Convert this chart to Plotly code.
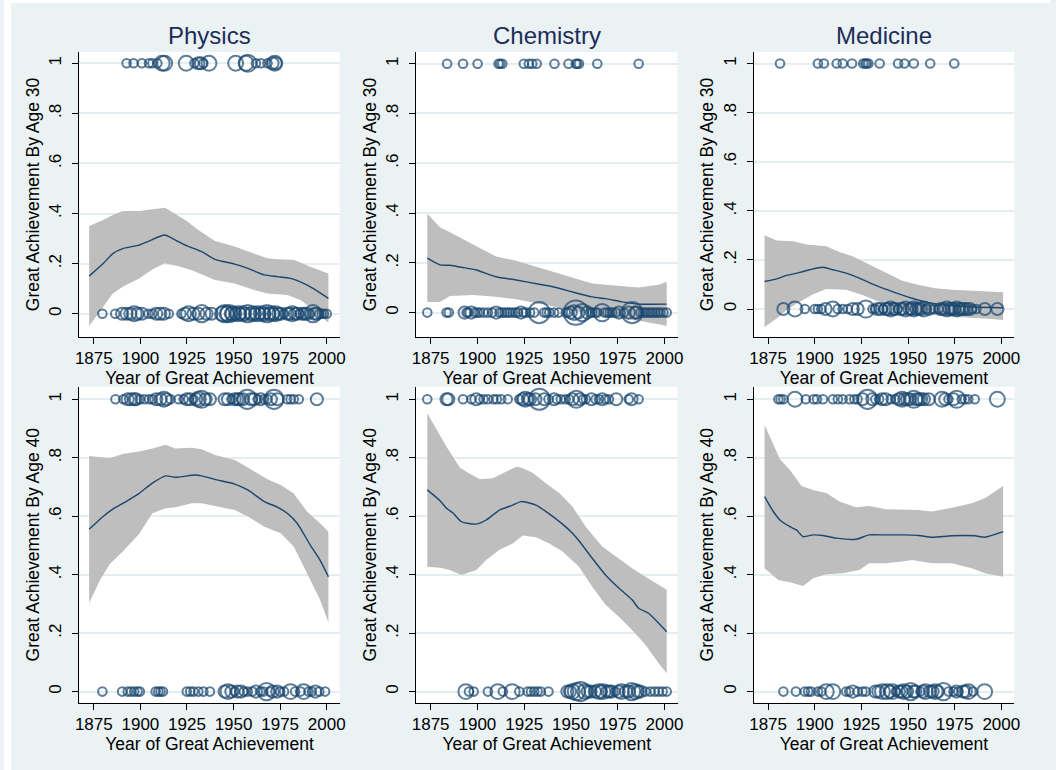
import math
import plotly.graph_objects as go

# ---------------- data ----------------
fields = ["Physics", "Chemistry", "Medicine"]
ylabels = ["Great Achievement By Age 30", "Great Achievement By Age 40"]
xlabel = "Year of Great Achievement"
x_ticks = [1875, 1900, 1925, 1950, 1975, 2000]
y_tickvals = [0, 0.2, 0.4, 0.6, 0.8, 1]
y_ticktext = ["0", ".2", ".4", ".6", ".8", "1"]

# ---- Physics, age 30 ----
phys30_fit_x = [1872.5, 1880, 1885.2, 1890.5, 1899.3, 1904.6, 1913, 1918.8, 1924.1, 1932.9, 1940, 1950.6, 1957.6, 1966.5, 1973.5, 1980.6, 1987.6, 1992.9, 2000.9]
phys30_fit_y = [0.15, 0.20, 0.24, 0.26, 0.274, 0.29, 0.314, 0.294, 0.274, 0.248, 0.217, 0.198, 0.181, 0.155, 0.148, 0.141, 0.121, 0.10, 0.061]
phys30_hi_x = [1872.5, 1880, 1885.2, 1890.5, 1899.3, 1913.2, 1924.1, 1931.1, 1940, 1950.6, 1959.4, 1968.2, 1973.5, 1982.3, 1991.1, 2000.9]
phys30_hi_y = [0.35, 0.374, 0.394, 0.41, 0.41, 0.423, 0.374, 0.334, 0.29, 0.268, 0.244, 0.221, 0.217, 0.215, 0.188, 0.161]
phys30_lo_x = [1872.5, 1880, 1885.2, 1890.5, 1899.3, 1906.4, 1913, 1920.5, 1927.6, 1940, 1950.6, 1961, 1968.2, 1978.8, 1985.9, 1992.9, 2000.9]
phys30_lo_y = [-0.049, 0.028, 0.081, 0.108, 0.141, 0.177, 0.201, 0.19, 0.174, 0.135, 0.121, 0.095, 0.081, 0.075, 0.055, 0.015, -0.036]
phys30_yes_years = [1892.6, 1896.3, 1900.8, 1904.6, 1906.4, 1909.1, 1911.7, 1913, 1924.6, 1929, 1931.1, 1932.5, 1933.8, 1936.8, 1951.1, 1956.7, 1957.6, 1962, 1964.7, 1968.2, 1970.9, 1972.1, 1972.6]
phys30_yes_count = [1, 1, 1, 1, 1, 1, 3, 3, 3, 1, 2, 2, 1, 3, 3, 3, 4, 1, 1, 1, 2, 3, 2]
phys30_no_years = [1879.6, 1886.5, 1890.2, 1892.6, 1894.6, 1896.7, 1898.5, 1900.8, 1904.3, 1906.4, 1908.5, 1910.6, 1912.6, 1915.2, 1922, 1924, 1925.8, 1928.5, 1931.1, 1932.9, 1935.5, 1938.2,
                   1944, 1945.3, 1946.5, 1947.6, 1948.5, 1949.7, 1951, 1952.4, 1953.5, 1955, 1956, 1957.6, 1959, 1960.3, 1961.5, 1962.9, 1964, 1965.6, 1966.5, 1967.9, 1969, 1970.3, 1971.5, 1972.6, 1974, 1975.3, 1977, 1978.8, 1980, 1981.5, 1983, 1984.1, 1985.5, 1986.7, 1988, 1989.4, 1991, 1992.6, 1993.5, 1994.7, 1996, 1997.3, 1998.5, 2000]
phys30_no_count = [1, 1, 2, 2, 2, 3, 2, 2, 1, 1, 2, 2, 2, 1, 1, 2, 3, 2, 2, 4, 2, 2,
                   3, 4, 3, 4, 2, 3, 2, 3, 2, 3, 2, 4, 2, 3, 2, 3, 2, 3, 2, 4, 2, 3, 2, 3, 2, 2, 1, 2, 2, 3, 2, 2, 1, 2, 2, 2, 1, 4, 2, 2, 1, 1, 1, 1]

# ---- Chemistry, age 30 ----
chem30_fit_x = [1873.2, 1880, 1885.3, 1892.3, 1899.4, 1910, 1920.7, 1933.1, 1941.9, 1950.8, 1961.4, 1968.5, 1977.3, 1986.2, 2001.2]
chem30_fit_y = [0.219, 0.192, 0.19, 0.181, 0.171, 0.144, 0.131, 0.114, 0.101, 0.083, 0.063, 0.056, 0.043, 0.034, 0.034]
chem30_hi_x = [1873.2, 1880, 1885.3, 1892.3, 1899.4, 1910, 1920.7, 1933.1, 1950.8, 1961.4, 1968.5, 1979.5, 1986.2, 1996.9, 2001.2]
chem30_hi_y = [0.397, 0.343, 0.323, 0.296, 0.269, 0.225, 0.208, 0.181, 0.141, 0.117, 0.112, 0.104, 0.101, 0.112, 0.124]
chem30_lo_x = [1873.2, 1880, 1885.3, 1897.6, 1908.2, 1920.7, 1933.1, 1941.9, 1950.8, 1961.4, 1972.5, 1986.2, 1996.9, 2001.2]
chem30_lo_y = [0.043, 0.043, 0.067, 0.071, 0.065, 0.054, 0.036, 0.023, 0.007, -0.006, -0.02, -0.033, -0.047, -0.054]
chem30_yes_years = [1883.8, 1892.3, 1900.1, 1911.3, 1912.2, 1913.3, 1924.8, 1927.5, 1929.3, 1931.7, 1941.2, 1948.7, 1952.6, 1953.3, 1954.3, 1964.1, 1986.2]
chem30_yes_count = [1] * 17
chem30_no_years = [1873.2, 1883.5, 1884.7, 1893.2, 1894.2, 1895, 1896.8, 1898.5, 1900, 1901.2, 1903.3, 1905.6, 1907.9, 1910, 1911.8, 1913.2, 1914.5, 1916, 1917.2, 1918.9, 1920.3, 1921.6, 1923.3, 1924.6, 1926, 1928.1, 1930.4, 1933, 1935.7, 1937, 1938.4, 1941, 1943.5,
                   1947.2, 1948.5, 1949.9, 1951.7, 1952.6, 1954, 1956.1, 1958.8, 1960.2, 1961.4, 1963, 1964.1, 1966.7, 1968, 1969.4, 1970.8, 1972.1, 1974, 1975.6, 1978.3, 1980.9, 1982.7, 1984.4, 1985, 1987.1, 1988.5, 1989.8, 1991.2, 1992.5, 1993.8, 1995.1, 1996.5, 1997.8, 1999.5, 2001.2]
chem30_no_count = [1, 1, 1, 2, 1, 1, 2, 1, 1, 1, 1, 1, 1, 2, 1, 1, 1, 1, 1, 1, 1, 1, 2, 1, 1, 1, 1, 6, 1, 1, 1, 1, 1,
                   1, 1, 2, 3, 8, 2, 4, 2, 1, 1, 1, 1, 4, 1, 1, 1, 1, 1, 2, 1, 2, 6, 2, 2, 1, 1, 1, 1, 1, 1, 1, 1, 1, 1, 1]

# ---- Medicine, age 30 ----
med30_fit_x = [1873.1, 1879.6, 1884.9, 1892, 1897.3, 1904.4, 1909.7, 1916.8, 1923.9, 1932.7, 1941.6, 1952.2, 1961.1, 1969.9, 1982.3, 2001]
med30_fit_y = [0.112, 0.123, 0.137, 0.149, 0.16, 0.17, 0.16, 0.146, 0.126, 0.096, 0.071, 0.044, 0.026, 0.016, 0.009, 0.005]
med30_hi_x = [1873.1, 1879.6, 1888.5, 1895.6, 1906.2, 1913.2, 1920.3, 1929.2, 1938, 1946.9, 1955.8, 1964.6, 1973.5, 1982.3, 2001]
med30_hi_y = [0.3, 0.279, 0.276, 0.263, 0.256, 0.232, 0.215, 0.181, 0.146, 0.115, 0.098, 0.085, 0.078, 0.074, 0.068]
med30_lo_x = [1873.1, 1879.6, 1884.9, 1892, 1899.1, 1906.2, 1916.8, 1925.6, 1934.5, 1945.1, 1955.8, 1973.5, 1991.2, 2001]
med30_lo_y = [-0.073, -0.039, -0.004, 0.03, 0.06, 0.082, 0.078, 0.057, 0.03, 0.003, -0.018, -0.032, -0.039, -0.045]
med30_yes_years = [1881.4, 1901.7, 1904.9, 1911.8, 1915, 1920, 1926, 1927.1, 1927.9, 1928.8, 1934.8, 1944.7, 1948.1, 1953.1, 1961.9, 1974.8]
med30_yes_count = [1] * 16
med30_no_years = [1883.2, 1889.4, 1894.7, 1900, 1901.7, 1903.5, 1905.8, 1909.7, 1912.3, 1915, 1917.7, 1920.4, 1923, 1927.4, 1931, 1932.3, 1933.6, 1935.4, 1936.7, 1938, 1939.4, 1940.7, 1942, 1943.3, 1944.6, 1946, 1947.3, 1948.7, 1950.8, 1952, 1953.1, 1954.5, 1955.8, 1957, 1958.4, 1959.8, 1961.1, 1963.7, 1966.4, 1967.5, 1969, 1970.8, 1972.2, 1973.5, 1974.8, 1976.1, 1977.5, 1978.8, 1980, 1981.4, 1983.2, 1984.5, 1986.7, 1991.2, 1997.9]
med30_no_count = [2, 3, 1, 1, 1, 1, 2, 3, 1, 1, 1, 2, 2, 4, 1, 1, 2, 2, 1, 2, 2, 3, 2, 2, 1, 2, 2, 3, 2, 2, 3, 2, 2, 2, 3, 1, 2, 1, 1, 2, 2, 3, 2, 2, 2, 3, 2, 2, 2, 2, 2, 1, 1, 2, 2]

# ---- Physics, age 40 ----
phys40_fit_x = [1872.5, 1880, 1885.2, 1892.3, 1899.3, 1906.4, 1913.5, 1918.8, 1929.4, 1932.9, 1940, 1950.6, 1957.6, 1966.5, 1973.5, 1978.8, 1984.1, 1991.1, 1996.4, 2000.9]
phys40_fit_y = [0.555, 0.599, 0.624, 0.65, 0.678, 0.713, 0.738, 0.733, 0.741, 0.738, 0.726, 0.71, 0.69, 0.65, 0.631, 0.61, 0.576, 0.502, 0.45, 0.393]
phys40_hi_x = [1872.5, 1883.5, 1890.5, 1899.3, 1906.4, 1913.5, 1918.8, 1927.6, 1932.9, 1940, 1950.6, 1957.6, 1968.2, 1975.3, 1982.3, 1989.4, 1996.4, 2000.9]
phys40_hi_y = [0.806, 0.798, 0.813, 0.821, 0.832, 0.844, 0.832, 0.834, 0.829, 0.809, 0.792, 0.767, 0.726, 0.707, 0.678, 0.616, 0.576, 0.547]
phys40_lo_x = [1872.5, 1878.4, 1883.5, 1890.5, 1899.3, 1906.4, 1913.5, 1918.8, 1927.6, 1932.9, 1940, 1950.6, 1957.6, 1966.5, 1975.3, 1982.3, 1989.4, 1996.4, 2000.9]
phys40_lo_y = [0.304, 0.382, 0.436, 0.479, 0.539, 0.61, 0.627, 0.631, 0.644, 0.644, 0.635, 0.621, 0.599, 0.564, 0.542, 0.496, 0.405, 0.314, 0.236]
phys40_yes_years = [1886.6, 1890.9, 1893.2, 1895, 1896.7, 1897.6, 1899.7, 1902, 1904.6, 1906.4, 1908.5, 1910.8, 1912.6, 1914, 1916.1, 1920.5, 1923.2, 1924.9, 1926.7, 1928.5, 1930, 1931.1, 1932.9, 1935, 1937.3, 1945.2, 1947, 1948.8, 1950.6, 1952, 1953.2, 1955, 1957.3, 1959.4, 1961, 1962.9, 1964.5, 1966.5, 1968.2, 1970, 1971.7, 1973.5, 1978.8, 1980.6, 1982.3, 1985, 1994.7]
phys40_yes_count = [1, 1, 2, 2, 2, 2, 1, 1, 1, 1, 2, 2, 3, 2, 1, 1, 1, 2, 2, 1, 2, 3, 4, 2, 2, 2, 2, 1, 2, 2, 2, 2, 5, 2, 2, 1, 2, 1, 1, 2, 5, 2, 1, 1, 1, 1, 2]
phys40_no_years = [1879.6, 1890.2, 1893.2, 1895, 1896.7, 1898.5, 1899.7, 1908.2, 1909.6, 1910.8, 1912.1, 1924.9, 1926.7, 1928.5, 1931.1, 1933.8, 1937.3, 1945.2, 1947, 1948.8, 1950.6, 1952, 1954.1, 1955.5, 1957.6, 1960, 1962, 1964.4, 1966, 1967.7, 1969.5, 1971, 1973.5, 1975, 1977.1, 1980.6, 1983, 1985.9, 1987.6, 1990.3, 1992, 1993.8, 1996, 1999.1]
phys40_no_count = [1, 1, 1, 1, 1, 1, 1, 1, 1, 1, 1, 1, 1, 1, 1, 1, 1, 2, 3, 2, 1, 2, 2, 1, 1, 1, 2, 1, 1, 4, 1, 2, 2, 1, 1, 3, 1, 1, 3, 1, 1, 2, 1, 1]

# ---- Chemistry, age 40 ----
chem40_fit_x = [1873.2, 1880, 1883.5, 1887.1, 1891.5, 1899.4, 1904.7, 1911.8, 1918.9, 1923.3, 1931.3, 1938.4, 1945.5, 1950.8, 1954.3, 1961.4, 1968.5, 1975.6, 1982.7, 1986.2, 1991.5, 1996.9, 2001.2]
chem40_fit_y = [0.69, 0.653, 0.627, 0.61, 0.581, 0.573, 0.587, 0.621, 0.638, 0.65, 0.638, 0.608, 0.573, 0.542, 0.516, 0.456, 0.399, 0.354, 0.314, 0.285, 0.268, 0.234, 0.205]
chem40_hi_x = [1873.2, 1878.2, 1883.5, 1890.6, 1894.1, 1901.2, 1908.3, 1913.6, 1920.7, 1923.3, 1929.5, 1936.6, 1943.7, 1950.8, 1957.9, 1966.7, 1973.8, 1982.7, 1989.8, 1996.9, 2001.2]
chem40_hi_y = [0.952, 0.897, 0.838, 0.767, 0.752, 0.726, 0.73, 0.747, 0.769, 0.767, 0.749, 0.713, 0.679, 0.633, 0.564, 0.496, 0.462, 0.422, 0.393, 0.365, 0.348]
chem40_lo_x = [1873.2, 1880, 1885.3, 1891.5, 1899.4, 1904.7, 1911.8, 1918.9, 1924.2, 1931.3, 1938.4, 1945.5, 1954.3, 1961.4, 1968.5, 1975.6, 1982.7, 1989.8, 1996.9, 2001.2]
chem40_lo_y = [0.427, 0.424, 0.416, 0.399, 0.416, 0.45, 0.485, 0.507, 0.534, 0.528, 0.507, 0.479, 0.427, 0.359, 0.297, 0.256, 0.211, 0.16, 0.097, 0.063]
chem40_yes_years = [1873.2, 1883.5, 1884.4, 1892.3, 1896.8, 1899.4, 1901.2, 1903.3, 1905.6, 1908.6, 1910.4, 1912.7, 1916.2, 1922.4, 1924.2, 1925.6, 1927, 1928.1, 1931, 1933.1, 1935.7, 1938, 1941, 1942.5, 1944.6, 1947.2, 1949, 1950.8, 1952.9, 1954.7, 1956.5, 1957.9, 1961, 1963.2, 1965, 1966.7, 1968.5, 1970.3, 1974.2, 1980.9, 1982.4, 1986.2]
chem40_yes_count = [1, 2, 2, 1, 1, 2, 1, 1, 1, 1, 1, 1, 1, 1, 2, 3, 2, 2, 2, 6, 2, 1, 2, 1, 1, 1, 1, 2, 4, 2, 1, 1, 2, 1, 1, 2, 1, 1, 2, 1, 2, 1]
chem40_no_years = [1893.8, 1895.5, 1898, 1905.6, 1910.9, 1913.6, 1918.6, 1922.4, 1926.9, 1928.6, 1930.4, 1932.2, 1933.9, 1938, 1948.1, 1949.5, 1950.8, 1952.9, 1955.2, 1957.5, 1959, 1960.5, 1962.8, 1965, 1966, 1967.1, 1969.4, 1970.5, 1971.7, 1973.8, 1975.5, 1977, 1979.5, 1981, 1982.4, 1984.5, 1985.8, 1987.1, 1989.8, 1992.5, 1994.8, 1996.9, 1999, 2001.2]
chem40_no_count = [3, 1, 1, 1, 3, 1, 3, 1, 1, 1, 1, 1, 1, 1, 2, 2, 3, 4, 5, 3, 2, 2, 2, 3, 2, 3, 2, 2, 2, 1, 2, 3, 2, 2, 4, 3, 2, 2, 1, 1, 1, 1, 1, 1]

# ---- Medicine, age 40 ----
med40_fit_x = [1873.1, 1877.8, 1881.4, 1886.7, 1890.2, 1893.8, 1899.1, 1904.4, 1911.5, 1922.1, 1929.2, 1938, 1946.9, 1955.8, 1962.8, 1973.5, 1985.9, 1991.2, 2001]
med40_fit_y = [0.667, 0.616, 0.587, 0.564, 0.553, 0.53, 0.536, 0.534, 0.525, 0.521, 0.536, 0.536, 0.536, 0.534, 0.528, 0.533, 0.533, 0.528, 0.547]
med40_hi_x = [1873.1, 1877.8, 1881.4, 1886.7, 1892.9, 1899.1, 1906.2, 1913.2, 1922.1, 1929.2, 1938, 1955.8, 1962.8, 1973.5, 1984.1, 1991.2, 2001]
med40_hi_y = [0.912, 0.844, 0.795, 0.758, 0.703, 0.69, 0.679, 0.65, 0.631, 0.635, 0.624, 0.621, 0.616, 0.629, 0.644, 0.661, 0.703]
med40_lo_x = [1873.1, 1880.5, 1886.7, 1893.8, 1899.1, 1906.2, 1915, 1923.9, 1929.2, 1938, 1946.9, 1952.2, 1962.8, 1973.5, 1984.1, 1991.2, 2001]
med40_lo_y = [0.422, 0.382, 0.374, 0.361, 0.388, 0.401, 0.405, 0.416, 0.439, 0.439, 0.445, 0.45, 0.439, 0.439, 0.422, 0.405, 0.393]
med40_yes_years = [1880.5, 1881.7, 1883.2, 1889.4, 1895.2, 1899.4, 1901.2, 1904.4, 1909.7, 1912.4, 1915, 1918.6, 1921.2, 1923, 1925.6, 1928.3, 1930.9, 1932.5, 1934.5, 1936, 1938, 1940.7, 1943.3, 1945, 1946.9, 1948, 1949.6, 1951, 1953.1, 1954.5, 1955.8, 1957, 1958.5, 1961.1, 1968.2, 1970, 1971.7, 1974.4, 1976.1, 1978.8, 1980.5, 1982.3, 1985.8, 1997.9]
med40_yes_count = [1, 1, 1, 3, 1, 1, 1, 1, 1, 1, 1, 1, 1, 1, 2, 5, 2, 1, 1, 2, 2, 1, 1, 2, 3, 2, 2, 2, 4, 2, 2, 2, 2, 2, 3, 2, 1, 2, 4, 1, 1, 1, 1, 3]
med40_no_years = [1883.2, 1889.9, 1894.7, 1896.5, 1898, 1901.8, 1903.5, 1906.2, 1909.7, 1916.8, 1918.5, 1920.4, 1923, 1925.6, 1927.4, 1932.5, 1934.1, 1936.3, 1938.9, 1940.3, 1941.6, 1943.5, 1945.1, 1946.5, 1947.8, 1949.5, 1951.4, 1953, 1954, 1956.7, 1958, 1959.3, 1961.9, 1963.2, 1964.6, 1966, 1969, 1971.7, 1974.4, 1976, 1977, 1979.6, 1981, 1982.3, 1984.9, 1991.1]
med40_no_count = [1, 1, 1, 1, 1, 1, 1, 3, 3, 1, 1, 2, 1, 1, 1, 2, 2, 3, 3, 2, 3, 1, 2, 2, 3, 2, 4, 2, 2, 1, 2, 3, 2, 2, 3, 2, 4, 1, 1, 2, 1, 2, 2, 3, 1, 3]

panels = [
    (phys30_fit_x, phys30_fit_y, phys30_hi_x, phys30_hi_y, phys30_lo_x, phys30_lo_y, phys30_yes_years, phys30_yes_count, phys30_no_years, phys30_no_count),
    (chem30_fit_x, chem30_fit_y, chem30_hi_x, chem30_hi_y, chem30_lo_x, chem30_lo_y, chem30_yes_years, chem30_yes_count, chem30_no_years, chem30_no_count),
    (med30_fit_x, med30_fit_y, med30_hi_x, med30_hi_y, med30_lo_x, med30_lo_y, med30_yes_years, med30_yes_count, med30_no_years, med30_no_count),
    (phys40_fit_x, phys40_fit_y, phys40_hi_x, phys40_hi_y, phys40_lo_x, phys40_lo_y, phys40_yes_years, phys40_yes_count, phys40_no_years, phys40_no_count),
    (chem40_fit_x, chem40_fit_y, chem40_hi_x, chem40_hi_y, chem40_lo_x, chem40_lo_y, chem40_yes_years, chem40_yes_count, chem40_no_years, chem40_no_count),
    (med40_fit_x, med40_fit_y, med40_hi_x, med40_hi_y, med40_lo_x, med40_lo_y, med40_yes_years, med40_yes_count, med40_no_years, med40_no_count),
]

# ---------------- layout / style ----------------
W, H = 1056, 770
NAVY = "#1A476F"
CI_GRAY = "#BEBEBE"
BG = "#EAF2F3"
GRID = "#E4EDEF"
FONT = "Liberation Sans, Arial, sans-serif"

col_px = [(76, 339), (416, 680), (756.7, 1020)]
row_px = [(52, 337), (386.7, 702.7)]
y_ranges = [[-0.093, 1.045], [-0.098, 1.047], [-0.114, 1.047],
            [-0.038, 1.043], [-0.038, 1.043], [-0.038, 1.043]]
x_range = [1867.2, 2007.0]

fig = go.Figure()
layout = dict(
    width=W, height=H, autosize=False,
    margin=dict(l=0, r=0, t=0, b=0),
    paper_bgcolor=BG, plot_bgcolor="white",
    showlegend=False,
    font=dict(family=FONT, color="black", size=17),
)


def msize(c):
    return 8.6 * math.sqrt(c)


annotations = []
for i, p in enumerate(panels):
    fx, fy, hx, hy, lx, ly, yx, yc, nx, nc = p
    r, c = divmod(i, 3)
    k = i + 1
    xa = "x" if k == 1 else f"x{k}"
    ya = "y" if k == 1 else f"y{k}"
    fig.add_trace(go.Scatter(
        x=list(hx) + list(reversed(lx)), y=list(hy) + list(reversed(ly)),
        fill="toself", fillcolor=CI_GRAY, mode="lines", line=dict(width=0),
        xaxis=xa, yaxis=ya, hoverinfo="skip"))
    fig.add_trace(go.Scatter(
        x=fx, y=fy, mode="lines", line=dict(color=NAVY, width=1.4, shape="spline", smoothing=0.6),
        xaxis=xa, yaxis=ya))
    for xs, cs, yv in ((yx, yc, 1), (nx, nc, 0)):
        fig.add_trace(go.Scatter(
            x=xs, y=[yv] * len(xs), mode="markers",
            marker=dict(symbol="circle-open", color=NAVY, size=[msize(v) for v in cs],
                        line=dict(width=2, color=NAVY)),
            xaxis=xa, yaxis=ya))

    x0, x1 = col_px[c]
    y0, y1 = row_px[r]
    xkey = "xaxis" if k == 1 else f"xaxis{k}"
    ykey = "yaxis" if k == 1 else f"yaxis{k}"
    layout[xkey] = dict(
        domain=[x0 / W, x1 / W], anchor=ya, range=x_range,
        tickmode="array", tickvals=x_ticks, ticks="outside", ticklen=6, tickwidth=1,
        tickcolor="black", showline=True, linecolor="black", linewidth=1,
        showgrid=False, zeroline=False, tickfont=dict(size=17),
        title=dict(text=xlabel, font=dict(size=17.5), standoff=0),
    )
    layout[ykey] = dict(
        domain=[1 - y1 / H, 1 - y0 / H], anchor=xa, range=y_ranges[i],
        tickmode="array", tickvals=y_tickvals, ticktext=y_ticktext, tickangle=-90,
        ticks="outside", ticklen=6, tickwidth=1, tickcolor="black",
        showline=True, linecolor="black", linewidth=1,
        showgrid=True, gridcolor=GRID, gridwidth=1.5, zeroline=False,
        tickfont=dict(size=17), ticklabelstandoff=4,
        title=dict(text=ylabels[r], font=dict(size=17.5), standoff=2),
    )

for c, name in enumerate(fields):
    x0, x1 = col_px[c]
    annotations.append(dict(
        text=name, x=(x0 + x1) / 2 / W, y=1 - 35.5 / H, xref="paper", yref="paper",
        xanchor="center", yanchor="middle", showarrow=False,
        font=dict(size=24, color="#1E2D5A", family=FONT)))

layout["annotations"] = annotations
layout["shapes"] = [
    dict(type="rect", xref="paper", yref="paper", x0=0, x1=7 / W, y0=0, y1=1,
         fillcolor="white", line=dict(width=0), layer="below"),
    dict(type="rect", xref="paper", yref="paper", x0=0, x1=1, y0=1 - 3 / H, y1=1,
         fillcolor="white", line=dict(width=0), layer="below"),
]
fig.update_layout(**layout)
fig.write_html("out.html")
